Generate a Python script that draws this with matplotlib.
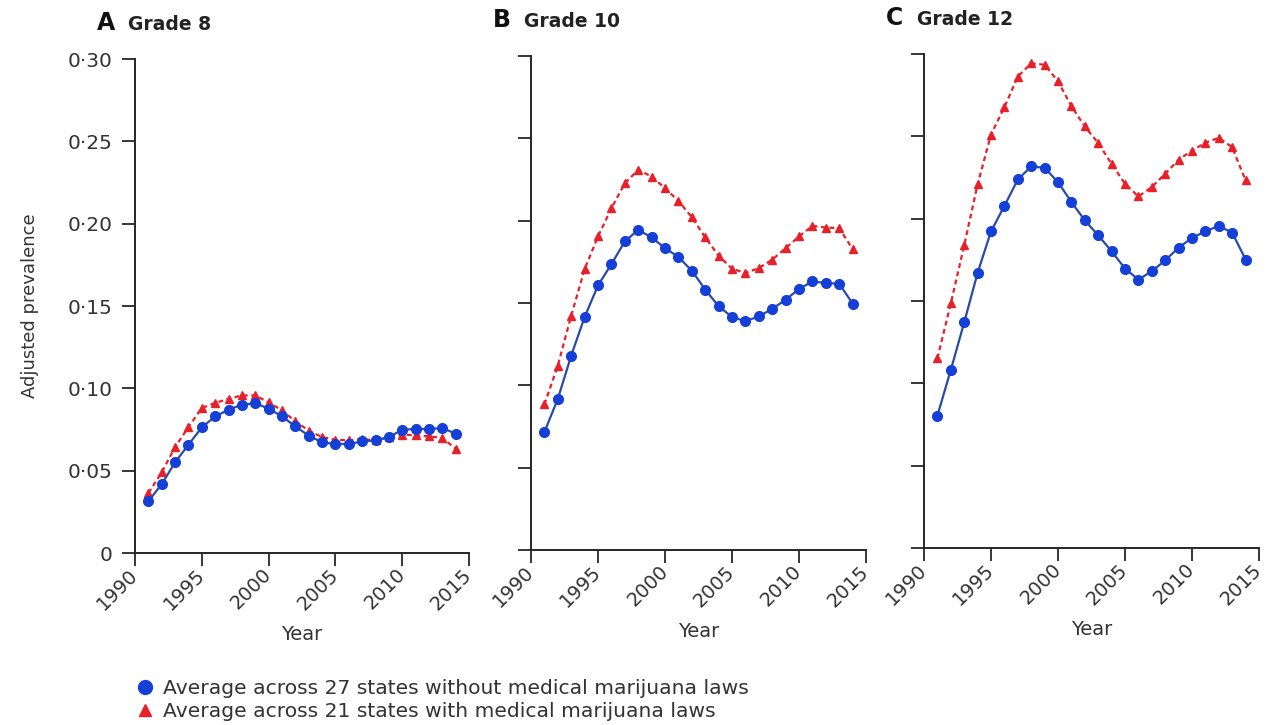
import matplotlib
matplotlib.use('Agg')
from matplotlib import pyplot as plt
from matplotlib.lines import Line2D

plt.rcParams['font.family'] = ['DejaVu Sans']

years = list(range(1991, 2015))

# grade 8
g8_without = [0.0314, 0.0419, 0.0551, 0.0658, 0.0763, 0.0830, 0.0870, 0.0901, 0.0909, 0.0877, 0.0830, 0.0769,
              0.0713, 0.0672, 0.0662, 0.0662, 0.0678, 0.0684, 0.0704, 0.0749, 0.0753, 0.0753, 0.0759, 0.0725]
g8_with = [0.0364, 0.0490, 0.0644, 0.0765, 0.0881, 0.0911, 0.0937, 0.0957, 0.0957, 0.0915, 0.0866, 0.0800,
           0.0743, 0.0704, 0.0688, 0.0684, 0.0692, 0.0684, 0.0704, 0.0719, 0.0715, 0.0709, 0.0698, 0.0634]

# grade 10
g10_without = [0.0716, 0.0918, 0.1181, 0.1415, 0.1607, 0.1736, 0.1874, 0.1944, 0.1898, 0.1833, 0.1779, 0.1696,
               0.1581, 0.1480, 0.1415, 0.1389, 0.1419, 0.1464, 0.1520, 0.1585, 0.1631, 0.1621, 0.1617, 0.1496]
g10_with = [0.0884, 0.1120, 0.1423, 0.1706, 0.1904, 0.2076, 0.2227, 0.2308, 0.2268, 0.2197, 0.2120, 0.2021,
            0.1898, 0.1787, 0.1708, 0.1682, 0.1712, 0.1763, 0.1833, 0.1904, 0.1968, 0.1958, 0.1954, 0.1827]

# grade 12
g12_without = [0.0804, 0.1081, 0.1370, 0.1671, 0.1923, 0.2077, 0.2238, 0.2317, 0.2309, 0.2222, 0.2101, 0.1990,
               0.1899, 0.1802, 0.1697, 0.1630, 0.1681, 0.1747, 0.1824, 0.1883, 0.1923, 0.1956, 0.1915, 0.1752]
g12_with = [0.1152, 0.1485, 0.1838, 0.2208, 0.2511, 0.2677, 0.2863, 0.2943, 0.2935, 0.2834, 0.2683, 0.2560,
            0.2459, 0.2333, 0.2212, 0.2135, 0.2192, 0.2273, 0.2358, 0.2414, 0.2461, 0.2491, 0.2434, 0.2232]

panels = [('A', 'Grade 8', g8_without, g8_with),
          ('B', 'Grade 10', g10_without, g10_with),
          ('C', 'Grade 12', g12_without, g12_with)]

y_ticks = [0, 0.05, 0.10, 0.15, 0.20, 0.25, 0.30]
y_labels = ['0', '0·05', '0·10', '0·15', '0·20', '0·25', '0·30']
x_ticks = [1990, 1995, 2000, 2005, 2010, 2015]

BLUE = '#1540d8'
BLUE_LINE = '#2a4aa8'
RED = '#e8202a'
AXIS = '#262626'
TEXT = '#333333'

fig = plt.figure(figsize=(12.68, 7.25), dpi=100)
positions = [(0.1065, 0.2372, 0.2634, 0.6814),
             (0.4188, 0.2414, 0.2642, 0.6814),
             (0.7287, 0.2441, 0.2642, 0.6814)]

for i, (pos, (letter, grade, without, with_)) in enumerate(zip(positions, panels)):
    ax = fig.add_axes(pos)
    ax.plot(years, with_, color=RED, linestyle=(0, (2.2, 1.6)), linewidth=1.6,
            marker='^', markersize=5.5, markerfacecolor=RED, markeredgecolor=RED, zorder=2)
    ax.plot(years, without, color=BLUE_LINE, linewidth=1.6,
            marker='o', markersize=7, markerfacecolor=BLUE, markeredgecolor=BLUE, zorder=3)

    ax.set_xlim(1990, 2015)
    ax.set_ylim(0, 0.30)
    for side in ('top', 'right'):
        ax.spines[side].set_visible(False)
    for side in ('left', 'bottom'):
        ax.spines[side].set_color(AXIS)
        ax.spines[side].set_linewidth(1.4)
    ax.tick_params(direction='out', length=9.5, width=1.3, color=AXIS,
                   labelsize=14, labelcolor=TEXT)
    ax.tick_params(axis='y', labelsize=14.5, pad=7)
    ax.tick_params(axis='x', pad=4)
    ax.set_xticks(x_ticks)
    ax.set_xticklabels([str(t) for t in x_ticks], rotation=45, ha='right', va='center',
                       rotation_mode='anchor')
    ax.set_yticks(y_ticks)
    ax.set_yticklabels(y_labels if i == 0 else [])
    ax.set_xlabel('Year', fontsize=14, color=TEXT, labelpad=8)
    if i == 0:
        ax.set_ylabel('Adjusted prevalence', fontsize=13, color=TEXT, labelpad=20)

    ax.text(-0.115, 1.058, letter, transform=ax.transAxes, fontsize=17, fontweight='bold',
            color='#111111', ha='left', va='baseline')
    ax.text(-0.02, 1.058, grade, transform=ax.transAxes, fontsize=13.5, fontweight='bold',
            color='#222222', ha='left', va='baseline')

handles = [Line2D([], [], linestyle='none', marker='o', markersize=10, color=BLUE),
           Line2D([], [], linestyle='none', marker='^', markersize=9, color=RED)]
labels = ['Average across 27 states without medical marijuana laws',
          'Average across 21 states with medical marijuana laws']
fig.legend(handles, labels, loc='lower left', bbox_to_anchor=(0.090, -0.020), frameon=False,
           fontsize=14.6, handletextpad=0.3, labelspacing=0.2, handlelength=1.2,
           labelcolor=TEXT)

fig.savefig('out.png', dpi=100)
